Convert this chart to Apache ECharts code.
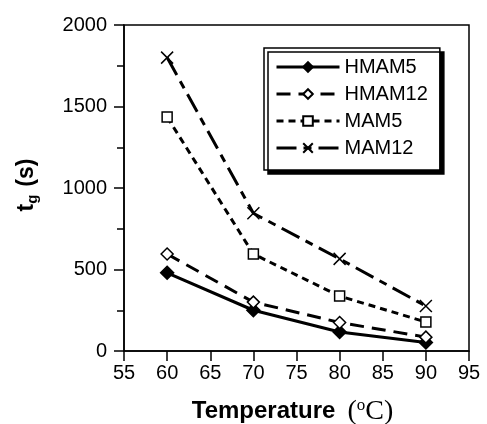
<!DOCTYPE html>
<html>
<head>
<meta charset="utf-8">
<script src="https://cdn.jsdelivr.net/npm/echarts@6/dist/echarts.min.js"></script>
<style>
	html, body { margin: 0; padding: 0; background: #fff; }
	#main { width: 487px; height: 424px; }
</style>
</head>
<body>
<div id="main"></div>
<script>
var temps = [60, 70, 80, 90];
var hmam5 = [480, 250, 117, 52];
var hmam12 = [595, 300, 175, 85];
var mam5 = [1435, 595, 337, 178];
var mam12 = [1800, 845, 565, 276];
var xTicks = [55, 95, 5];     // min, max, step
var yTicks = [0, 2000, 500];

function pairs(ys) {
	return temps.map(function (t, i) { return [t, ys[i]]; });
}

var chart = echarts.init(document.getElementById('main'), null, { renderer: 'canvas' });

var sans = 'Liberation Sans, Arial, sans-serif';
var serif = 'Liberation Serif, Times New Roman, serif';
var cross = 'path://M0,0L10,10M10,0L0,10';

function lineSeries(name, ys, dash, symbol, size, fill) {
	return {
		name: name,
		type: 'line',
		data: pairs(ys),
		symbol: symbol,
		symbolSize: size,
		showSymbol: true,
		lineStyle: { color: '#000', width: 3, type: dash },
		itemStyle: { color: fill, borderColor: '#000', borderWidth: 1.5 },
		emphasis: { disabled: true },
		z: 3
	};
}

var option = {
	animation: false,
	backgroundColor: '#fff',
	textStyle: { fontFamily: sans, color: '#000' },
	grid: {
		left: 124, right: 18, top: 25, bottom: 73,
		outerBoundsMode: 'none',
		containLabel: false,
		show: true, borderColor: '#000', borderWidth: 1.5
	},
	legend: {
		orient: 'vertical',
		left: 264, top: 48,
		padding: [9, 12, 12, 11],
		itemGap: 7,
		itemWidth: 63,
		itemHeight: 12,
		backgroundColor: '#fff',
		borderColor: '#000',
		borderWidth: 1.5,
		borderRadius: 0,
		shadowColor: '#000',
		shadowBlur: 0,
		shadowOffsetX: 4,
		shadowOffsetY: 4,
		lineStyle: { width: 3 },
		textStyle: { fontFamily: sans, fontSize: 20, color: '#000' },
		data: ['HMAM5', 'HMAM12', 'MAM5', 'MAM12']
	},
	xAxis: {
		type: 'value',
		min: xTicks[0], max: xTicks[1], interval: xTicks[2],
		axisLine: { lineStyle: { color: '#000', width: 1.5 } },
		axisTick: { inside: false, length: 10, lineStyle: { color: '#000', width: 1.5 } },
		axisLabel: { fontSize: 20, color: '#000', margin: 12, fontFamily: sans },
		splitLine: { show: false },
		name: '{b|Temperature}{gap|}{s|(}{sup|o}{s|C)}',
		nameLocation: 'middle',
		nameGap: 46,
		nameTextStyle: {
			padding: [0, 8, 0, 0],
			rich: {
				b: { fontFamily: sans, fontWeight: 'bold', fontSize: 24, color: '#000' },
				gap: { width: 12 },
				s: { fontFamily: serif, fontSize: 28, color: '#000' },
				sup: { fontFamily: serif, fontSize: 17, color: '#000', padding: [0, 0, 12, 0] }
			}
		}
	},
	yAxis: {
		type: 'value',
		min: yTicks[0], max: yTicks[1], interval: yTicks[2],
		axisLine: { show: true, lineStyle: { color: '#000', width: 1.5 } },
		axisTick: { show: true, inside: false, length: 10, lineStyle: { color: '#000', width: 1.5 } },
		minorTick: { show: true, splitNumber: 2, length: 7, lineStyle: { color: '#000', width: 1.5 } },
		axisLabel: {
			fontSize: 20, color: '#000', margin: 17, fontFamily: sans,
			formatter: function (v) { return String(v); }
		},
		splitLine: { show: false },
		name: '{b|t}{sub|g}{gap|}{b|(s)}',
		nameLocation: 'middle',
		nameGap: 84,
		nameRotate: 90,
		nameTextStyle: {
			padding: [0, 0, 0, 6],
			rich: {
				b: { fontFamily: sans, fontWeight: 'bold', fontSize: 23, color: '#000' },
				gap: { width: 8 },
				sub: { fontFamily: sans, fontWeight: 'bold', fontSize: 15, color: '#000', padding: [12, 0, 0, 0] }
			}
		}
	},
	series: [
		lineSeries('HMAM5', hmam5, 'solid', 'diamond', 13, '#000'),
		lineSeries('HMAM12', hmam12, [14, 8], 'diamond', 12, '#fff'),
		lineSeries('MAM5', mam5, [7, 5], 'rect', 10, '#fff'),
		lineSeries('MAM12', mam12, [20, 7, 8, 7], cross, 12, 'none')
	]
};

chart.setOption(option);
</script>
</body>
</html>
